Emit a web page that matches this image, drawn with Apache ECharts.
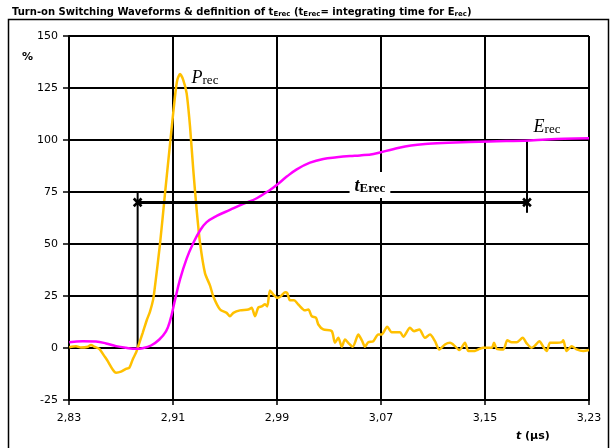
<!DOCTYPE html>
<html>
<head>
<meta charset="utf-8">
<script src="https://cdn.jsdelivr.net/npm/echarts@6/dist/echarts.min.js"></script>
<style>
  html, body { margin: 0; padding: 0; background: #fff; }
  #chart { width: 616px; height: 448px; }
</style>
</head>
<body>
<div id="chart"></div>
<script>
// Time axis (µs) and percentage axis ticks
const xTickValues = [2.83, 2.91, 2.99, 3.07, 3.15, 3.23];
const yTickValues = [-25, 0, 25, 50, 75, 100, 125, 150];

// Reverse-recovery power P_rec (%)
const precTime = [
  2.8302, 2.8354, 2.8392, 2.8446, 2.8469, 2.8495, 2.8533, 2.8572, 2.8598, 2.8636,
  2.8662, 2.8700, 2.8738, 2.8764, 2.8790, 2.8815, 2.8828, 2.8867, 2.8900, 2.8923,
  2.8948, 2.8962, 2.9000, 2.9038, 2.9077, 2.9115, 2.9133, 2.9154, 2.9179, 2.9205,
  2.9231, 2.9256, 2.9282, 2.9308, 2.9346, 2.9385, 2.9410, 2.9462, 2.9513, 2.9538,
  2.9564, 2.9615, 2.9679, 2.9705, 2.9731, 2.9756, 2.9782, 2.9808, 2.9825, 2.9846,
  2.9872, 2.9902, 2.9928, 2.9962, 2.9979, 3.0000, 3.0031, 3.0064, 3.0115, 3.0141,
  3.0167, 3.0200, 3.0218, 3.0256, 3.0321, 3.0346, 3.0372, 3.0398, 3.0423, 3.0448,
  3.0482, 3.0513, 3.0525, 3.0554, 3.0577, 3.0602, 3.0641, 3.0679, 3.0705, 3.0748,
  3.0782, 3.0846, 3.0872, 3.0923, 3.0954, 3.0995, 3.1038, 3.1077, 3.1115, 3.1148,
  3.1192, 3.1231, 3.1269, 3.1302, 3.1346, 3.1372, 3.1411, 3.1448, 3.1487, 3.1552,
  3.1569, 3.1590, 3.1641, 3.1672, 3.1705, 3.1744, 3.1790, 3.1821, 3.1859, 3.1885,
  3.1918, 3.1948, 3.1975, 3.2000, 3.2052, 3.2090, 3.2102, 3.2128, 3.2167, 3.2205,
  3.2256, 3.2300
];
const precValue = [
  0.4, 0.9, 0.2, 0.6, 1.5, 0.6, -0.4, -3.9, -6.3, -10.3,
  -11.9, -11.4, -10.0, -9.5, -5.5, -2.3, 0.0, 7.3, 13.7, 17.5,
  23.5, 30.0, 50.0, 74.0, 98.0, 120.8, 128.8, 131.7, 128.8, 122.4,
  106.4, 85.6, 66.4, 50.5, 36.0, 30.0, 24.8, 18.5, 16.9, 15.3,
  16.9, 18.1, 18.5, 19.3, 15.3, 19.5, 20.0, 21.0, 20.0, 27.7,
  25.7, 24.1, 24.8, 26.8, 26.4, 22.9, 22.9, 20.9, 18.1, 18.5,
  15.3, 14.5, 11.3, 8.9, 8.1, 2.5, 4.9, 0.6, 4.1, 2.5,
  0.6, 4.9, 6.5, 3.5, 0.6, 2.8, 3.3, 6.5, 6.5, 10.2,
  7.6, 7.6, 5.4, 9.7, 8.1, 8.9, 4.9, 6.5, 3.3, -0.7,
  1.7, 2.5, 0.9, -1.0, 2.5, -1.5, -1.5, -0.7, 0.1, 0.1,
  2.5, -0.4, -0.7, 3.7, 2.8, 2.8, 4.9, 2.2, 0.1, 1.2,
  3.3, 0.6, -1.5, 2.5, 2.5, 2.8, 3.7, -1.5, 0.9, -0.7,
  -1.5, -1.0
];

// Reverse-recovery energy E_rec (%)
const erecTime = [
  2.8302, 2.8405, 2.8508, 2.8585, 2.8662, 2.8738, 2.8815, 2.8867, 2.8931, 2.8995,
  2.9046, 2.9077, 2.9115, 2.9154, 2.9205, 2.9256, 2.9308, 2.9359, 2.9436, 2.9538,
  2.9641, 2.9744, 2.9846, 2.9898, 2.9975, 3.0052, 3.0154, 3.0256, 3.0359, 3.0462,
  3.0538, 3.0643, 3.0800, 3.0931, 3.1062, 3.1218, 3.1533, 3.1846, 3.2108, 3.2300
];
const erecValue = [
  2.8, 3.3, 3.1, 2.2, 0.9, 0.1, -0.4, -0.1, 1.2, 4.1,
  8.0, 13.0, 23.0, 33.0, 43.0, 50.5, 56.5, 60.5, 63.5, 66.4,
  69.3, 72.0, 76.0, 78.4, 82.4, 85.9, 89.1, 90.9, 91.7, 92.3,
  92.6, 93.3, 95.7, 97.4, 98.2, 98.7, 99.3, 99.8, 100.6, 100.8
];

// Integration window t_Erec
const tErecStart = 2.8828;
const tErecEnd = 3.1823;
const tErecLevel = 70;
const startMarkerRange = [0, 75];
const endMarkerRange = [65, 100];

const zip = (a, b) => a.map((v, i) => [v, b[i]]);

const serif = 'Liberation Serif';
const sans = 'DejaVu Sans';
const crossSymbol = 'path://M-1.2,-5H1.2V-1.2H5V1.2H1.2V5H-1.2V1.2H-5V-1.2H-1.2Z';

const chart = echarts.init(document.getElementById('chart'), null, { renderer: 'canvas' });

chart.setOption({
  animation: false,
  backgroundColor: '#fff',
  title: {
    left: 7,
    top: 1,
    text: '{b|Turn-on Switching Waveforms & definition of t}{s|Erec}{b| (t}{s|Erec}{b|= integrating time for E}{s|rec}{b|)}',
    textStyle: {
      rich: {
        b: { fontFamily: sans, fontWeight: 'bold', fontSize: 10, color: '#000', lineHeight: 12 },
        s: { fontFamily: sans, fontWeight: 'bold', fontSize: 7, color: '#000', lineHeight: 7, verticalAlign: 'bottom' }
      }
    }
  },
  grid: {
    left: 69, right: 27, top: 36, bottom: 48,
    containLabel: false,
    outerBoundsMode: 'none'
  },
  xAxis: {
    type: 'value',
    min: xTickValues[0],
    max: xTickValues[xTickValues.length - 1],
    interval: 0.08,
    axisLine: { onZero: false, lineStyle: { color: '#000', width: 2 } },
    axisTick: { show: true, length: 5, lineStyle: { color: '#000', width: 1.5 } },
    axisLabel: {
      color: '#000', fontFamily: sans, fontSize: 11, margin: 13,
      formatter: v => v.toFixed(2).replace('.', ',')
    },
    splitLine: { show: true, lineStyle: { color: '#000', width: 2 } }
  },
  yAxis: {
    type: 'value',
    min: yTickValues[0],
    max: yTickValues[yTickValues.length - 1],
    interval: 25,
    axisLine: { show: true, lineStyle: { color: '#000', width: 2 } },
    axisTick: { show: true, length: 6, lineStyle: { color: '#000', width: 1.5 } },
    axisLabel: { color: '#000', fontFamily: sans, fontSize: 11, margin: 11 },
    splitLine: { show: true, lineStyle: { color: '#000', width: 2 } }
  },
  graphic: [
    {
      type: 'rect', silent: true,
      shape: { x: 8.5, y: 19.5, width: 600, height: 430 },
      style: { fill: 'none', stroke: '#000', lineWidth: 1.5 }
    },
    {
      type: 'text', left: 22, top: 52,
      style: { text: '%', font: 'bold 11px "DejaVu Sans"', fill: '#000' }
    },
    {
      type: 'text', left: 516, top: 431,
      style: {
        text: '{i|t}{b| (µs)}',
        rich: {
          i: { fontFamily: sans, fontWeight: 'bold', fontStyle: 'italic', fontSize: 11, fill: '#000' },
          b: { fontFamily: sans, fontWeight: 'bold', fontSize: 11, fill: '#000' }
        }
      }
    }
  ],
  series: [
    {
      name: 'E_rec',
      type: 'line',
      data: zip(erecTime, erecValue),
      symbol: 'none',
      smooth: 0.4,
      z: 3,
      lineStyle: { color: '#FF00FF', width: 2.5 },
      markPoint: {
        symbol: 'circle', symbolSize: 0, silent: true,
        data: [{
          coord: [3.1977, 106.2],
          label: {
            show: true, position: 'inside',
            formatter: '{e|E}{s|rec}',
            rich: {
              e: { fontFamily: serif, fontStyle: 'italic', fontSize: 18, color: '#000', lineHeight: 18 },
              s: { fontFamily: serif, fontSize: 13, color: '#000', lineHeight: 10, verticalAlign: 'bottom' }
            }
          }
        }]
      }
    },
    {
      name: 'P_rec',
      type: 'line',
      data: zip(precTime, precValue),
      symbol: 'none',
      smooth: 0.25,
      z: 2,
      lineStyle: { color: '#FFC000', width: 2.5 },
      markPoint: {
        symbol: 'circle', symbolSize: 0, silent: true,
        data: [{
          coord: [2.9346, 129.7],
          label: {
            show: true, position: 'inside',
            formatter: '{p|P}{s|rec}',
            rich: {
              p: { fontFamily: serif, fontStyle: 'italic', fontSize: 18, color: '#000', lineHeight: 18 },
              s: { fontFamily: serif, fontSize: 13, color: '#000', lineHeight: 10, verticalAlign: 'bottom' }
            }
          }
        }]
      }
    },
    {
      name: 'start',
      type: 'line',
      data: [[tErecStart, startMarkerRange[0]], [tErecStart, startMarkerRange[1]]],
      symbol: 'none', z: 1,
      lineStyle: { color: '#000', width: 2 }
    },
    {
      name: 'end',
      type: 'line',
      data: [[tErecEnd, endMarkerRange[0]], [tErecEnd, endMarkerRange[1]]],
      symbol: 'none', z: 1,
      lineStyle: { color: '#000', width: 2 }
    },
    {
      name: 'tErec',
      type: 'line',
      data: [[tErecStart, tErecLevel], [tErecEnd, tErecLevel]],
      symbol: crossSymbol,
      symbolSize: 11,
      symbolRotate: 45,
      z: 4,
      itemStyle: { color: '#000' },
      lineStyle: { color: '#000', width: 3 },
      markPoint: {
        symbol: 'circle', symbolSize: 0, silent: true,
        data: [{
          coord: [3.0615, 78.4],
          label: {
            show: true, position: 'inside',
            backgroundColor: '#fff',
            padding: [5, 5, 3, 5],
            formatter: '{t|t}{s|Erec}',
            rich: {
              t: { fontFamily: serif, fontStyle: 'italic', fontWeight: 'bold', fontSize: 18, color: '#000', lineHeight: 18 },
              s: { fontFamily: serif, fontWeight: 'bold', fontSize: 13, color: '#000', lineHeight: 10, verticalAlign: 'bottom' }
            }
          }
        }]
      }
    }
  ]
});
</script>
</body>
</html>
